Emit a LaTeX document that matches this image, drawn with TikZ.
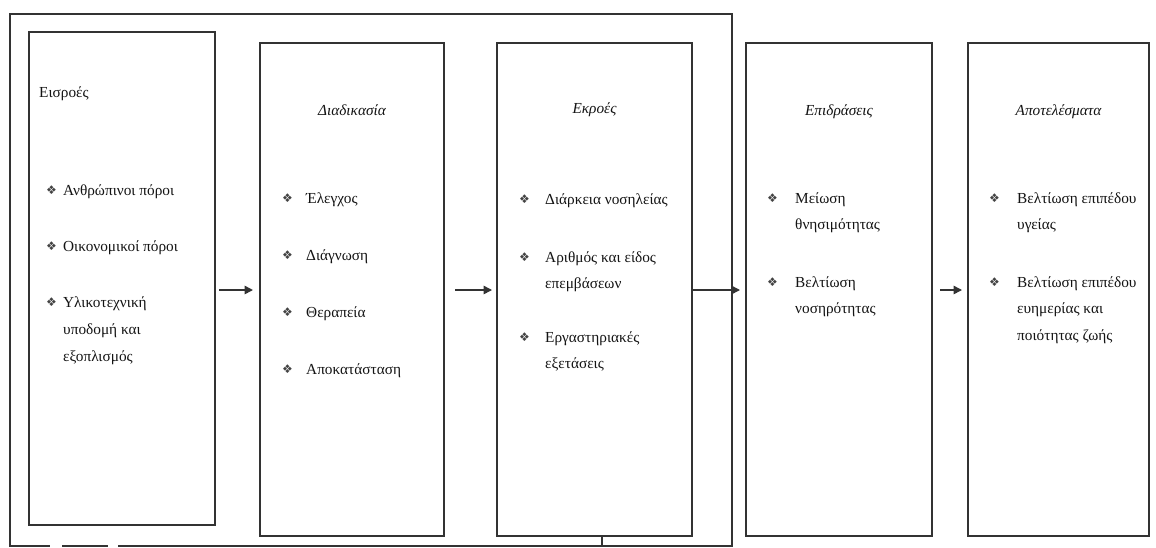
\documentclass[tikz,border=0pt]{standalone}
\usepackage{fontspec}
\setmainfont{Liberation Serif}
\newfontfamily\bulfont{DejaVu Sans}
\usetikzlibrary{arrows.meta}
\definecolor{ink}{HTML}{141414}
\definecolor{frame}{HTML}{333333}
\tikzset{
  stage/.style={draw=frame, line width=1.5pt, inner sep=0pt, outer sep=0pt, minimum height=493pt},
  frameline/.style={draw=frame, line width=1.3pt},
  txt/.style={anchor=base west, inner sep=0pt, text=ink, font=\fontsize{15.3}{18}\selectfont},
  ttl/.style={anchor=base, inner sep=0pt, text=ink, font=\fontsize{15.3}{18}\selectfont\itshape},
  bul/.style={anchor=base west, inner sep=0pt, text=ink!80, font=\bulfont\fontsize{12}{14}\selectfont},
  flow/.style={draw=frame, line width=1.5pt, -{Triangle[length=8.5pt,width=8.5pt]}},
}
\begin{document}
\begin{tikzpicture}[x=1pt,y=-1pt]
\useasboundingbox (0,0) rectangle (1156,547);
\fill[white] (0,0) rectangle (1156,547);

% outer frame
\coordinate (ftl) at (10,14);
\coordinate (ftr) at (732,14);
\coordinate (fbr) at (732,546);
\coordinate (fbl) at (10,546);
\coordinate (g1a) at (50,546);
\coordinate (g1b) at (62,546);
\coordinate (g2a) at (108,546);
\coordinate (g2b) at (118,546);
\draw[frameline] (g2b) -- (fbr) -- (ftr) -- (ftl) -- (fbl) -- (g1a);
\draw[frameline] (g1b) -- (g2a);

% stage boxes
\node[stage, minimum width=186pt, minimum height=493pt] (b1) at (122,278.5) {};
\node[stage, minimum width=184pt] (b2) at (352,289.5) {};
\node[stage, minimum width=195pt] (b3) at (594.5,289.5) {};
\node[stage, minimum width=186pt] (b4) at (839,289.5) {};
\node[stage, minimum width=181pt] (b5) at (1058.5,289.5) {};

% tick under box 3
\draw[frameline] ([xshift=7.5pt]b3.south) -- ([xshift=7.5pt]b3.south |- fbl);

% arrows
\coordinate (ay) at (0,290);
\draw[flow, shorten <=4pt, shorten >=7pt] (b1.east |- ay) -- (b2.west |- ay);
\draw[flow, shorten <=11pt, shorten >=5pt] (b2.east |- ay) -- (b3.west |- ay);
\draw[flow, shorten >=6pt] (b3.east |- ay) -- (b4.west |- ay);
\draw[flow, shorten <=8pt, shorten >=6pt] (b4.east |- ay) -- (b5.west |- ay);

% box 1
\node[txt] (t1) at (39,97) {Εισροές};
\node[bul] (p11) at (46,194) {❖};
\node[txt] (i11) at (63,195) {Ανθρώπινοι πόροι};
\node[bul] (p12) at (46,250) {❖};
\node[txt] (i12) at (63,251) {Οικονομικοί πόροι};
\node[bul] (p13) at (46,306) {❖};
\node[txt] (i13) at (63,307) {Υλικοτεχνική};
\node[txt] (i13b) at (63,334) {υποδομή και};
\node[txt] (i13c) at (63,361) {εξοπλισμός};

% box 2
\node[ttl] (t2) at (352,115) {Διαδικασία};
\node[bul] (p21) at (282,202) {❖};
\node[txt] (i21) at (306,203) {Έλεγχος};
\node[bul] (p22) at (282,259) {❖};
\node[txt] (i22) at (306,260) {Διάγνωση};
\node[bul] (p23) at (282,316) {❖};
\node[txt] (i23) at (306,317) {Θεραπεία};
\node[bul] (p24) at (282,373) {❖};
\node[txt] (i24) at (306,374) {Αποκατάσταση};

% box 3
\node[ttl] (t3) at (594.5,113) {Εκροές};
\node[bul] (p31) at (519,203) {❖};
\node[txt] (i31) at (545,204) {Διάρκεια νοσηλείας};
\node[bul] (p32) at (519,261) {❖};
\node[txt] (i32) at (545,262) {Αριθμός και είδος};
\node[txt] (i32b) at (545,288) {επεμβάσεων};
\node[bul] (p33) at (519,341) {❖};
\node[txt] (i33) at (545,342) {Εργαστηριακές};
\node[txt] (i33b) at (545,368) {εξετάσεις};

% box 4
\node[ttl] (t4) at (839,115) {Επιδράσεις};
\node[bul] (p41) at (767,202) {❖};
\node[txt] (i41) at (795,203) {Μείωση};
\node[txt] (i41b) at (795,229.5) {θνησιμότητας};
\node[bul] (p42) at (767,286) {❖};
\node[txt] (i42) at (795,287) {Βελτίωση};
\node[txt] (i42b) at (795,313.5) {νοσηρότητας};

% box 5
\node[ttl] (t5) at (1058.5,115) {Αποτελέσματα};
\node[bul] (p51) at (989,202) {❖};
\node[txt] (i51) at (1017,203) {Βελτίωση επιπέδου};
\node[txt] (i51b) at (1017,229.5) {υγείας};
\node[bul] (p52) at (989,286) {❖};
\node[txt] (i52) at (1017,287) {Βελτίωση επιπέδου};
\node[txt] (i52b) at (1017,313.5) {ευημερίας και};
\node[txt] (i52c) at (1017,340.5) {ποιότητας ζωής};
\end{tikzpicture}
\end{document}
